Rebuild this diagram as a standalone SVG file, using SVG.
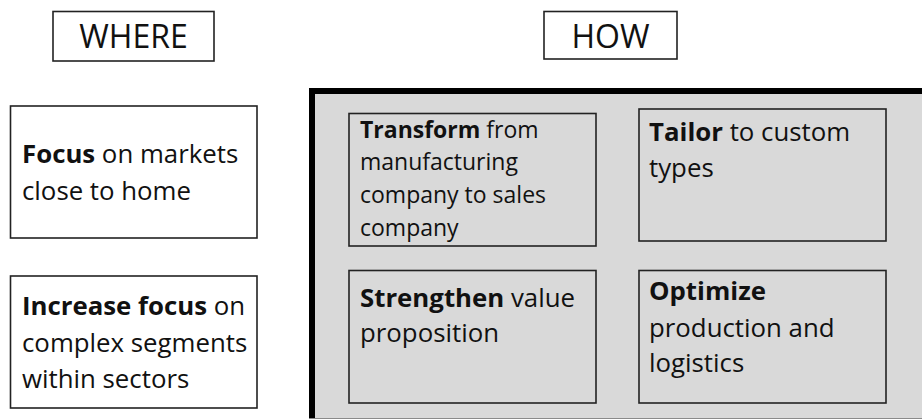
<svg xmlns="http://www.w3.org/2000/svg" width="922" height="419" viewBox="0 0 922 419">
  <style>
    text { font-family: "Open Sans", "Noto Sans", "Liberation Sans", sans-serif; fill: #111; }
    .hdr { font-size: 32px; text-anchor: middle; }
    .box { fill: #ffffff; stroke: #222; stroke-width: 1.6; }
    .ibox { fill: #d9d9d9; stroke: #222; stroke-width: 1.6; }
    .b { font-weight: bold; }
    .t26 { font-size: 25.8px; }
    .t23 { font-size: 23px; }
  </style>
  <rect width="922" height="419" fill="#ffffff"/>

  <!-- column headers -->
  <g id="where-header">
    <rect class="box" x="53" y="11.5" width="161" height="49.5"/>
    <text class="hdr" x="133.5" y="48">WHERE</text>
  </g>
  <g id="how-header">
    <rect class="box" x="544" y="11.5" width="133" height="47.5"/>
    <text class="hdr" x="610.5" y="48">HOW</text>
  </g>

  <!-- WHERE column -->
  <g id="focus-markets">
    <rect class="box" x="10.5" y="106" width="246.5" height="132"/>
    <text class="t26" x="22" y="163"><tspan class="b">Focus</tspan> on markets</text>
    <text class="t26" x="22" y="200">close to home</text>
  </g>
  <g id="increase-focus">
    <rect class="box" x="10.5" y="276" width="246.5" height="132"/>
    <text class="t26" x="22" y="315"><tspan class="b">Increase focus</tspan> on</text>
    <text class="t26" x="22" y="352">complex segments</text>
    <text class="t26" x="22" y="388">within sectors</text>
  </g>

  <!-- HOW panel -->
  <g id="how-panel">
    <rect x="312" y="91" width="700" height="400" fill="#d9d9d9" stroke="#000" stroke-width="6"/>
    <line x1="309" y1="418.5" x2="922" y2="418.5" stroke="#8a8a8a" stroke-width="1"/>
  </g>
  <g id="transform">
    <rect class="ibox" x="349" y="113.5" width="247" height="132.5"/>
    <text class="t23" x="360" y="138"><tspan class="b">Transform</tspan> from</text>
    <text class="t23" x="360" y="170">manufacturing</text>
    <text class="t23" x="360" y="203">company to sales</text>
    <text class="t23" x="360" y="236">company</text>
  </g>
  <g id="strengthen">
    <rect class="ibox" x="349" y="270.5" width="247" height="132.5"/>
    <text class="t26" x="360" y="307"><tspan class="b">Strengthen</tspan> value</text>
    <text class="t26" x="360" y="342">proposition</text>
  </g>
  <g id="tailor">
    <rect class="ibox" x="639" y="109" width="247" height="132"/>
    <text class="t26" x="649" y="141"><tspan class="b">Tailor</tspan> to custom</text>
    <text class="t26" x="649" y="177">types</text>
  </g>
  <g id="optimize">
    <rect class="ibox" x="639" y="270.5" width="247" height="132.5"/>
    <text class="t26 b" x="649" y="300">Optimize</text>
    <text class="t26" x="649" y="337">production and</text>
    <text class="t26" x="649" y="372">logistics</text>
  </g>

  <g id="connectors"/>
</svg>
